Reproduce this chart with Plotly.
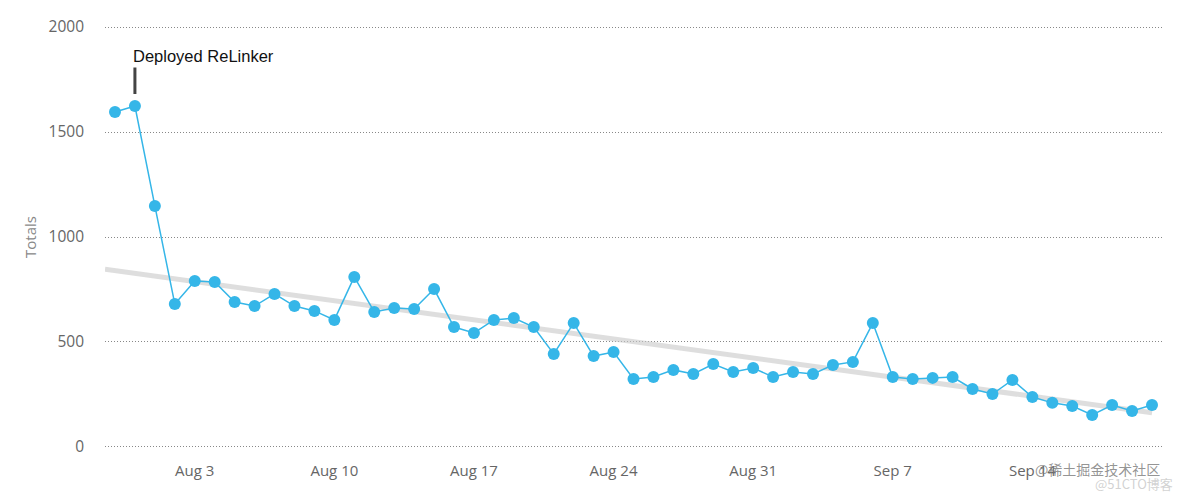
import pandas as pd
import plotly.graph_objects as go

start_date = "2015-07-30"
totals = [1595, 1624, 1148, 681, 790, 786, 690, 671, 729, 671,
          648, 605, 810, 643, 662, 657, 752, 571, 543, 605,
          614, 571, 443, 590, 433, 452, 324, 333, 367, 348,
          395, 357, 376, 333, 357, 348, 390, 405, 590, 333,
          324, 329, 333, 276, 252, 319, 238, 210, 195, 152,
          200, 171, 200]
dates = pd.date_range(start_date, periods=len(totals), freq="D")

# trend line end points
trend_dates = ["2015-07-29 12:00", "2015-09-20 00:00"]
trend_values = [846, 163]

tick_dates = ["2015-08-03", "2015-08-10", "2015-08-17", "2015-08-24",
              "2015-08-31", "2015-09-07", "2015-09-14"]
tick_labels = ["Aug 3", "Aug 10", "Aug 17", "Aug 24", "Aug 31", "Sep 7", "Sep 14"]
y_ticks = [0, 500, 1000, 1500, 2000]

annotation_date = "2015-07-31"
annotation_text = "Deployed ReLinker"

blue = "#35b6e8"
fig = go.Figure()
fig.add_trace(go.Scatter(x=trend_dates, y=trend_values, mode="lines",
                         line=dict(color="rgba(200,200,200,0.6)", width=5),
                         hoverinfo="skip", showlegend=False))
fig.add_trace(go.Scatter(x=dates, y=totals, mode="lines+markers",
                         line=dict(color=blue, width=1.5),
                         marker=dict(color=blue, size=12),
                         showlegend=False))

ann_y = totals[list(dates).index(pd.Timestamp(annotation_date))]
fig.add_annotation(x=annotation_date, y=ann_y, text="", showarrow=True,
                   arrowhead=0, arrowwidth=3, arrowcolor="#444",
                   ax=0, ay=-40, standoff=12)
fig.add_annotation(x=annotation_date, y=ann_y, text=annotation_text,
                   showarrow=False, xanchor="left", yanchor="middle",
                   xshift=-4, yshift=50,
                   font=dict(family="Liberation Sans, Arial", size=16.5, color="#111"))

fig.add_annotation(xref="paper", yref="paper", x=1.0, y=-0.05,
                   xanchor="right", yanchor="middle", showarrow=False,
                   text="@稀土掘金技术社区",
                   font=dict(family="Noto Sans CJK SC", size=14, color="rgba(120,120,120,0.8)"))
fig.add_annotation(xref="paper", yref="paper", x=1.012, y=-0.085,
                   xanchor="right", yanchor="middle", showarrow=False,
                   text="@51CTO博客",
                   font=dict(family="Noto Sans CJK SC", size=13, color="rgba(190,190,190,0.7)"))

fig.update_layout(
    width=1184, height=495,
    margin=dict(l=105, r=22, t=26, b=47),
    plot_bgcolor="white", paper_bgcolor="white",
    font=dict(family="Open Sans, Lato, sans-serif", size=15, color="#666"),
)
fig.update_xaxes(range=["2015-07-29 12:00", "2015-09-20 12:00"],
                 tickvals=tick_dates, ticktext=tick_labels,
                 showgrid=False, showline=False, zeroline=False,
                 ticks="", ticklabelstandoff=12,
                 tickfont=dict(size=15, color="#666"))
fig.update_yaxes(range=[-5, 2005], tickvals=y_ticks,
                 showgrid=True, gridcolor="#888", griddash="1px,2px", gridwidth=1,
                 zeroline=False, showline=False, ticks="", ticklabelstandoff=20,
                 tickfont=dict(size=15.5, color="#666"),
                 title=dict(text="Totals", font=dict(size=15, color="#888"), standoff=8))

fig.write_html("out.html")
